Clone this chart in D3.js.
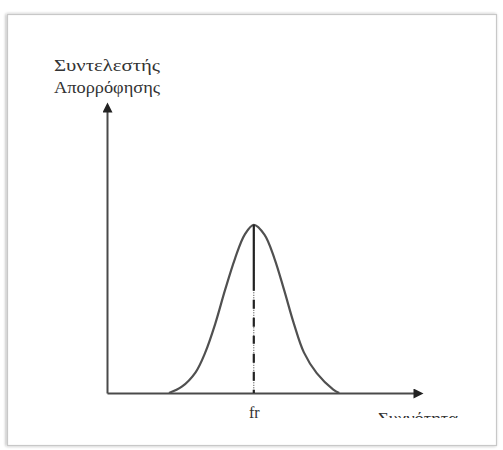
<!DOCTYPE html>
<html>
<head>
<meta charset="utf-8">
<script src="https://cdn.jsdelivr.net/npm/d3@7/dist/d3.min.js"></script>
<style>
  html, body { margin: 0; padding: 0; background: #fff; }
  svg { display: block; }
</style>
</head>
<body>
<svg id="chart" width="503" height="450"></svg>
<script>
// Absorption coefficient versus frequency: a resonance peak at fr
const frequency  = [19.8, 23.9, 28.3, 31.4, 34.6, 37.7, 40.9, 44.0, 46.9, 50.3, 53.5, 56.6, 59.7, 62.9, 67.0, 72.3, 74.2];
const absorption = [0.000, 0.022, 0.072, 0.141, 0.241, 0.357, 0.467, 0.550, 0.584, 0.550, 0.467, 0.357, 0.241, 0.141, 0.069, 0.012, 0.000];
const resonance  = 46.9;
const resonanceLabel = ["fr"];
const yTitle = ["Συντελεστής", "Απορρόφησης"];
const xTitle = "Συχνότητα";

const serif = "'Liberation Serif', 'DejaVu Serif', serif";
const textColor = "#333";

const svg = d3.select("#chart");

// page frame with a soft shadow
const defs = svg.append("defs");
const shadow = defs.append("filter").attr("id", "shadow")
  .attr("x", "-5%").attr("y", "-5%").attr("width", "110%").attr("height", "110%");
shadow.append("feGaussianBlur").attr("in", "SourceAlpha").attr("stdDeviation", 1.6).attr("result", "b");
shadow.append("feOffset").attr("in", "b").attr("dx", -1).attr("dy", -0.5).attr("result", "o");
shadow.append("feComponentTransfer").attr("in", "o").attr("result", "s")
  .append("feFuncA").attr("type", "linear").attr("slope", 0.35);
const merge = shadow.append("feMerge");
merge.append("feMergeNode").attr("in", "s");
merge.append("feMergeNode").attr("in", "SourceGraphic");

svg.append("rect")
  .attr("x", 7.5).attr("y", 14.5).attr("width", 489).attr("height", 431)
  .attr("fill", "#fff").attr("stroke", "#c8c8c8").attr("stroke-width", 1.2)
  .attr("filter", "url(#shadow)");

// arrow heads for both axes
defs.append("marker").attr("id", "arrow")
  .attr("viewBox", "0 0 10 10").attr("refX", 7).attr("refY", 5)
  .attr("markerUnits", "userSpaceOnUse")
  .attr("markerWidth", 12).attr("markerHeight", 10)
  .attr("orient", "auto")
  .append("path").attr("d", "M0,0L10,5L0,10Z").attr("fill", "#222");

const x = d3.scaleLinear().domain([0, 100]).range([107, 420]);
const y = d3.scaleLinear().domain([0, 1]).range([393, 105]);

const axisColor = "#4a4a4a";

// x axis with the resonance tick
const gx = svg.append("g").attr("transform", `translate(0,${y(0)})`)
  .call(d3.axisBottom(x).tickValues([resonance]).tickFormat(() => resonanceLabel[0])
    .tickSizeInner(0).tickSizeOuter(0).tickPadding(14));
gx.select(".domain").attr("stroke", axisColor).attr("stroke-width", 2).attr("marker-end", "url(#arrow)");
gx.selectAll(".tick text")
  .attr("font-size", 16)
  .attr("font-family", serif)
  .style("fill", textColor);

// y axis, no ticks
const gy = svg.append("g").attr("transform", `translate(${x(0)},0)`)
  .call(d3.axisLeft(y).tickValues([]).tickSizeOuter(0));
gy.select(".domain").attr("stroke", axisColor).attr("stroke-width", 2).attr("marker-end", "url(#arrow)");

// resonance curve
const pts = frequency.map((f, i) => [f, absorption[i]]);
svg.append("path")
  .datum(pts)
  .attr("fill", "none")
  .attr("stroke", "#505050")
  .attr("stroke-width", 2.2)
  .attr("stroke-linejoin", "round")
  .attr("d", d3.line().x(d => x(d[0])).y(d => y(d[1])).curve(d3.curveCatmullRom.alpha(0.5)));

// marker line from the peak down to fr: fine dotted line plus a dashed overlay
const peak = d3.max(absorption);
svg.append("line")
  .attr("x1", x(resonance)).attr("x2", x(resonance))
  .attr("y1", y(peak)).attr("y2", y(0))
  .attr("stroke", "#333").attr("stroke-width", 1).attr("stroke-dasharray", "1,1.5");
svg.append("line")
  .attr("x1", x(resonance)).attr("x2", x(resonance))
  .attr("y1", y(peak)).attr("y2", y(0))
  .attr("stroke", "#222").attr("stroke-width", 2.2)
  .attr("stroke-dasharray", "66,9,9,9,9,9,8,10,9,9,9,9,9,9");

// y axis title
svg.append("g").selectAll("text").data(yTitle).join("text")
  .attr("x", 107).attr("y", (d, i) => 71 + i * 22)
  .attr("text-anchor", "middle")
  .attr("font-family", serif)
  .attr("font-size", 17)
  .attr("textLength", 106).attr("lengthAdjust", "spacingAndGlyphs")
  .style("fill", textColor)
  .text(d => d);

// x axis title, cut off at its lower edge
defs.append("clipPath").attr("id", "xclip")
  .append("rect").attr("x", 360).attr("y", 395).attr("width", 120).attr("height", 23);
svg.append("text")
  .attr("x", 418).attr("y", 424)
  .attr("text-anchor", "middle")
  .attr("font-family", serif)
  .attr("font-size", 17)
  .attr("textLength", 80).attr("lengthAdjust", "spacingAndGlyphs")
  .attr("clip-path", "url(#xclip)")
  .style("fill", textColor)
  .text(xTitle);
</script>
</body>
</html>
